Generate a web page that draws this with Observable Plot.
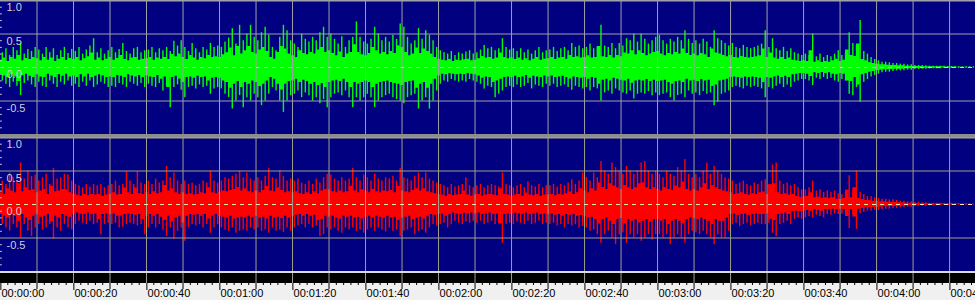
<!DOCTYPE html>
<html>
<head>
<meta charset="utf-8">
<script src="https://cdn.jsdelivr.net/npm/d3@7"></script>
<script src="https://cdn.jsdelivr.net/npm/@observablehq/plot@0.6"></script>
<style>
  html, body { margin: 0; padding: 0; background: #f0f0f0; }
  #wrap { width: 975px; }
  #wrap svg { display: block; }
  .sep { height: 3px; background: #8c8c8c; }
</style>
</head>
<body>
<div id="wrap"></div>
<script>
// ---- data (per-second peak amplitudes) ----
const greenPos = [
  0.22,0.28,0.18,0.3,0.25,0.36,0.2,0.27,0.24,0.3,
  0.26,0.2,0.3,0.22,0.28,0.18,0.25,0.3,0.21,0.27,
  0.24,0.3,0.2,0.26,0.32,0.43,0.22,0.28,0.2,0.25,
  0.3,0.22,0.27,0.36,0.24,0.2,0.28,0.3,0.22,0.25,
  0.26,0.3,0.22,0.28,0.25,0.3,0.24,0.39,0.32,0.4,
  0.3,0.24,0.36,0.28,0.22,0.3,0.26,0.36,0.3,0.32,
  0.3,0.38,0.44,0.58,0.35,0.63,0.4,0.5,0.63,0.45,
  0.4,0.52,0.6,0.48,0.3,0.25,0.45,0.63,0.55,0.4,
  0.35,0.3,0.5,0.42,0.38,0.45,0.4,0.52,0.6,0.45,
  0.5,0.42,0.35,0.46,0.3,0.4,0.45,0.68,0.45,0.38,
  0.35,0.42,0.6,0.5,0.4,0.45,0.38,0.48,0.42,0.65,
  0.6,0.45,0.35,0.4,0.58,0.42,0.55,0.48,0.4,0.3,
  0.25,0.22,0.2,0.24,0.18,0.22,0.2,0.23,0.25,0.2,
  0.22,0.26,0.33,0.28,0.3,0.25,0.28,0.43,0.3,0.26,
  0.28,0.24,0.28,0.22,0.26,0.2,0.25,0.3,0.22,0.25,
  0.26,0.3,0.24,0.28,0.3,0.25,0.36,0.3,0.32,0.28,
  0.3,0.35,0.28,0.3,0.63,0.32,0.3,0.36,0.28,0.36,
  0.32,0.43,0.4,0.5,0.38,0.5,0.42,0.35,0.4,0.45,
  0.48,0.4,0.35,0.42,0.38,0.45,0.4,0.55,0.42,0.36,
  0.4,0.35,0.42,0.38,0.3,0.55,0.43,0.4,0.36,0.32,
  0.36,0.3,0.28,0.33,0.3,0.28,0.3,0.32,0.35,0.55,
  0.3,0.43,0.28,0.25,0.3,0.24,0.28,0.22,0.2,0.18,
  0.2,0.18,0.5,0.16,0.2,0.15,0.18,0.16,0.2,0.25,
  0.18,0.22,0.52,0.36,0.33,0.7,0.24,0.2,0.15,0.12,
  0.1,0.08,0.08,0.07,0.06,0.06,0.05,0.05,0.04,0.04,
  0.03,0.03,0.03,0.025,0.02,0.02,0.02,0.02,0.02,0.015,
  0.015,0.015,0.01,0.01,0.01,0.01,0.01
];
const greenNeg = [
  0.2,0.25,0.3,0.22,0.28,0.42,0.24,0.2,0.26,0.3,
  0.22,0.28,0.3,0.2,0.25,0.3,0.22,0.26,0.2,0.28,
  0.25,0.3,0.22,0.28,0.2,0.3,0.26,0.22,0.25,0.3,
  0.28,0.3,0.24,0.26,0.3,0.22,0.25,0.28,0.24,0.3,
  0.25,0.28,0.3,0.24,0.35,0.28,0.6,0.3,0.26,0.34,
  0.45,0.3,0.28,0.32,0.26,0.3,0.28,0.4,0.32,0.3,
  0.32,0.4,0.45,0.62,0.5,0.42,0.6,0.45,0.5,0.4,
  0.45,0.57,0.5,0.4,0.3,0.35,0.5,0.67,0.5,0.42,
  0.4,0.35,0.45,0.38,0.42,0.5,0.45,0.54,0.48,0.6,
  0.45,0.4,0.38,0.42,0.35,0.45,0.6,0.45,0.5,0.45,
  0.4,0.45,0.6,0.5,0.45,0.42,0.4,0.45,0.48,0.5,
  0.54,0.45,0.42,0.4,0.62,0.5,0.45,0.62,0.5,0.35,
  0.25,0.2,0.22,0.18,0.2,0.22,0.2,0.22,0.18,0.2,
  0.22,0.25,0.32,0.28,0.3,0.45,0.4,0.35,0.3,0.28,
  0.3,0.26,0.3,0.28,0.24,0.32,0.26,0.28,0.3,0.25,
  0.28,0.25,0.3,0.28,0.26,0.3,0.34,0.28,0.3,0.32,
  0.3,0.35,0.3,0.32,0.5,0.38,0.35,0.4,0.32,0.35,
  0.38,0.4,0.35,0.47,0.4,0.38,0.4,0.36,0.42,0.38,
  0.42,0.4,0.38,0.45,0.5,0.42,0.4,0.45,0.35,0.4,
  0.38,0.42,0.36,0.4,0.38,0.57,0.52,0.4,0.38,0.35,
  0.3,0.28,0.3,0.32,0.28,0.3,0.28,0.3,0.32,0.45,
  0.3,0.32,0.28,0.25,0.3,0.26,0.3,0.22,0.2,0.18,
  0.18,0.2,0.27,0.16,0.18,0.15,0.18,0.16,0.2,0.22,
  0.18,0.2,0.4,0.42,0.3,0.52,0.22,0.18,0.14,0.12,
  0.1,0.08,0.07,0.07,0.06,0.05,0.05,0.05,0.04,0.04,
  0.03,0.03,0.025,0.025,0.02,0.02,0.02,0.02,0.015,0.015,
  0.015,0.01,0.01,0.01,0.01,0.01,0.01
];
const redPos = [
  0.35,0.3,0.47,0.4,0.35,0.62,0.38,0.5,0.42,0.44,
  0.35,0.4,0.45,0.3,0.54,0.38,0.4,0.45,0.44,0.35,
  0.3,0.28,0.25,0.3,0.26,0.3,0.28,0.3,0.25,0.28,
  0.3,0.35,0.28,0.3,0.49,0.35,0.3,0.49,0.32,0.3,
  0.35,0.3,0.38,0.32,0.35,0.57,0.4,0.47,0.35,0.3,
  0.35,0.3,0.32,0.28,0.3,0.35,0.32,0.5,0.35,0.32,
  0.35,0.4,0.38,0.42,0.45,0.5,0.4,0.47,0.38,0.35,
  0.4,0.35,0.42,0.54,0.4,0.38,0.5,0.42,0.35,0.38,
  0.35,0.38,0.32,0.3,0.35,0.3,0.38,0.32,0.4,0.45,
  0.44,0.38,0.35,0.4,0.35,0.38,0.54,0.4,0.35,0.44,
  0.4,0.35,0.45,0.38,0.35,0.4,0.38,0.42,0.35,0.54,
  0.4,0.38,0.35,0.42,0.47,0.4,0.47,0.38,0.35,0.32,
  0.3,0.28,0.25,0.3,0.26,0.28,0.3,0.4,0.28,0.25,
  0.28,0.3,0.25,0.28,0.3,0.28,0.26,0.47,0.3,0.28,
  0.25,0.28,0.3,0.25,0.34,0.28,0.26,0.3,0.25,0.28,
  0.28,0.3,0.26,0.3,0.28,0.32,0.37,0.3,0.35,0.47,
  0.4,0.35,0.47,0.4,0.64,0.5,0.45,0.62,0.55,0.5,
  0.45,0.57,0.5,0.45,0.5,0.62,0.64,0.5,0.45,0.5,
  0.45,0.4,0.5,0.45,0.42,0.55,0.5,0.67,0.45,0.4,
  0.45,0.4,0.5,0.62,0.45,0.57,0.5,0.45,0.4,0.38,
  0.35,0.3,0.32,0.35,0.3,0.28,0.32,0.3,0.35,0.37,
  0.3,0.59,0.62,0.35,0.3,0.32,0.28,0.3,0.25,0.22,
  0.22,0.25,0.35,0.2,0.22,0.18,0.2,0.18,0.2,0.16,
  0.15,0.18,0.43,0.2,0.5,0.18,0.15,0.12,0.12,0.1,
  0.09,0.08,0.08,0.07,0.07,0.06,0.05,0.05,0.04,0.04,
  0.03,0.03,0.025,0.025,0.02,0.02,0.02,0.02,0.02,0.015,
  0.02,0.015,0.015,0.01,0.01,0.01,0.01
];
const redNeg = [
  0.3,0.35,0.4,0.3,0.35,0.5,0.3,0.4,0.48,0.35,
  0.3,0.38,0.35,0.3,0.52,0.35,0.4,0.3,0.35,0.38,
  0.3,0.25,0.28,0.3,0.25,0.3,0.28,0.45,0.3,0.28,
  0.3,0.28,0.35,0.34,0.3,0.28,0.3,0.32,0.3,0.45,
  0.35,0.3,0.35,0.3,0.38,0.48,0.35,0.52,0.4,0.35,
  0.55,0.35,0.3,0.32,0.3,0.35,0.3,0.43,0.35,0.3,
  0.35,0.38,0.4,0.35,0.43,0.4,0.38,0.4,0.35,0.38,
  0.35,0.4,0.38,0.43,0.35,0.4,0.38,0.42,0.35,0.4,
  0.35,0.32,0.3,0.35,0.3,0.35,0.32,0.48,0.45,0.35,
  0.38,0.35,0.4,0.43,0.35,0.38,0.35,0.4,0.38,0.43,
  0.38,0.35,0.4,0.35,0.38,0.41,0.35,0.4,0.38,0.48,
  0.4,0.38,0.35,0.45,0.4,0.38,0.43,0.35,0.3,0.32,
  0.3,0.28,0.35,0.3,0.25,0.28,0.3,0.26,0.28,0.25,
  0.28,0.25,0.3,0.28,0.25,0.3,0.28,0.58,0.3,0.28,
  0.3,0.26,0.28,0.3,0.25,0.3,0.28,0.25,0.3,0.28,
  0.3,0.28,0.32,0.3,0.35,0.3,0.32,0.3,0.35,0.33,
  0.35,0.4,0.38,0.45,0.58,0.45,0.4,0.5,0.6,0.45,
  0.42,0.58,0.45,0.5,0.45,0.55,0.5,0.45,0.53,0.45,
  0.45,0.5,0.45,0.6,0.5,0.45,0.5,0.58,0.45,0.4,
  0.42,0.45,0.4,0.45,0.5,0.6,0.45,0.5,0.5,0.4,
  0.3,0.28,0.33,0.3,0.28,0.32,0.3,0.28,0.3,0.3,
  0.28,0.43,0.48,0.3,0.28,0.25,0.3,0.22,0.2,0.22,
  0.2,0.18,0.2,0.16,0.18,0.2,0.15,0.16,0.14,0.15,
  0.14,0.15,0.36,0.15,0.37,0.14,0.12,0.1,0.1,0.09,
  0.09,0.08,0.07,0.07,0.06,0.06,0.05,0.05,0.04,0.04,
  0.03,0.03,0.025,0.025,0.02,0.02,0.02,0.015,0.015,0.015,
  0.015,0.015,0.01,0.01,0.01,0.01,0.01
];

// scale / axis ticks
const yTickValues = [1, 0.5, 0, -0.5];
const yTickLabels = ["1.0", "0.5", "0.0", "-0.5"];
const yMinor = [0.9,0.8,0.7,0.6,0.4,0.3,0.2,0.1,-0.1,-0.2,-0.3,-0.4,-0.6,-0.7,-0.8,-0.9];
const gridTimes = [10,20,30,40,50,60,70,80,90,100,110,120,130,140,150,160,170,180,190,200,210,220,230,240,250,260];
const labelTimes = [0,20,40,60,80,100,120,140,160,180,200,220,240,260];
const minorTimes = [2,4,6,8,12,14,16,18,22,24,26,28,32,34,36,38,42,44,46,48,52,54,56,58,62,64,66,68,72,74,76,78,82,84,86,88,92,94,96,98,102,104,106,108,112,114,116,118,122,124,126,128,132,134,136,138,142,144,146,148,152,154,156,158,162,164,166,168,172,174,176,178,182,184,186,188,192,194,196,198,202,204,206,208,212,214,216,218,222,224,226,228,232,234,236,238,242,244,246,248,252,254,256,258,262,264,266];

const X_DOMAIN = [0, 267.1];
const FONT = "'Liberation Sans', Arial, sans-serif";
const BODY = 0.5; // dense body of the signal relative to the peaks

function channel(pos, neg, color, gridColor, zeroColor) {
  const rows = pos.map((p, i) => ({t: i, hi: p, lo: -neg[i]}));
  return Plot.plot({
    width: 975, height: 134, margin: 0,
    x: {domain: X_DOMAIN, axis: null},
    y: {domain: [-1, 1], axis: null},
    style: {background: "#000080", fontFamily: FONT, fontSize: "11px", overflow: "hidden"},
    marks: [
      Plot.areaY(rows, {x: "t", y1: d => d.lo * BODY, y2: d => d.hi * BODY, fill: color, curve: "step"}),
      Plot.ruleX(rows, {x: d => d.t + 0.5, y1: "lo", y2: "hi", stroke: color, strokeWidth: 1.4}),
      Plot.ruleX(gridTimes, {stroke: gridColor, strokeWidth: 1}),
      Plot.ruleY([-0.5, 0.5], {stroke: gridColor, strokeWidth: 1}),
      Plot.ruleY([1], {stroke: gridColor, strokeWidth: 2}),
      Plot.ruleY([0], {stroke: zeroColor, strokeWidth: 1, strokeDasharray: "4,4"}),
      Plot.ruleY(yMinor, {x1: 0, x2: 0.5, stroke: "#c8c8c8"}),
      Plot.text(yTickValues, {x: 0, y: d => d, text: (d, i) => yTickLabels[i], dx: 6, dy: 7,
        textAnchor: "start", fill: "#d0d0d8", fontSize: 11})
    ]
  });
}

const fmt = s => {
  const h = Math.floor(s / 3600), m = Math.floor((s % 3600) / 60), sec = s % 60;
  const p = n => String(n).padStart(2, "0");
  return `${p(h)}:${p(m)}:${p(sec)}`;
};

const axis = Plot.plot({
  width: 975, height: 29, margin: 0,
  x: {domain: X_DOMAIN, axis: null},
  y: {domain: [0, 29], range: [0, 29], axis: null},
  style: {background: "linear-gradient(#dcdcdc 0 2px, #000 2px 12px, #f0f0f0 12px)", fontFamily: FONT, fontSize: "11px", overflow: "hidden"},
  marks: [
    Plot.ruleX(gridTimes, {y1: 2, y2: 12, stroke: "#a0a0a0"}),
    Plot.ruleX(minorTimes, {y1: 12, y2: 14, stroke: "#000"}),
    Plot.ruleX(gridTimes.filter(t => t % 20 !== 0), {y1: 12, y2: 18, stroke: "#000"}),
    Plot.ruleX(labelTimes, {x: d => d + 0.1, y1: 12, y2: 19, stroke: "#000"}),
    Plot.text(labelTimes, {x: d => d, y: 22, text: fmt, dx: 1, textAnchor: "start", fill: "#000", fontSize: 11})
  ]
});

const wrap = document.getElementById("wrap");
wrap.append(channel(greenPos, greenNeg, "#00ff00", "#a0a0a8", "#d0d0d0"));
const sep = document.createElement("div"); sep.className = "sep"; wrap.append(sep);
wrap.append(channel(redPos, redNeg, "#ff0000", "#a0a088", "#e8e8b8"));
wrap.append(axis);
</script>
</body>
</html>
